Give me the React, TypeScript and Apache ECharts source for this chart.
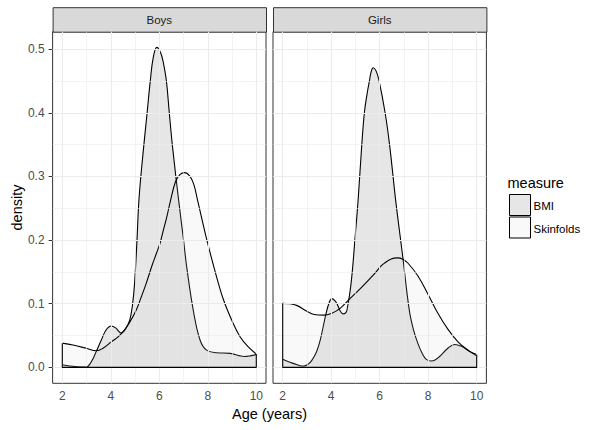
import React, { useEffect, useRef } from "react";
import * as echarts from "echarts";

const panels = ["Boys", "Girls"];
const measures = ["BMI", "Skinfolds"];
const xTicks = [2, 4, 6, 8, 10];
const xMinor = [3, 5, 7, 9];
const yTicks = [0, 0.1, 0.2, 0.3, 0.4, 0.5];
const yMinor = [0.05, 0.15, 0.25, 0.35, 0.45];

const boysBMI: number[][] = [
  [2, 0.004], [2.3, 0.002], [2.6, 0.001], [2.98, 0.0005], [3.2, 0.009], [3.4, 0.025],
  [3.61, 0.043], [3.81, 0.059], [4.02, 0.065], [4.2, 0.062], [4.43, 0.054], [4.6, 0.06],
  [4.78, 0.074], [4.9, 0.1], [4.98, 0.132], [5.08, 0.2], [5.16, 0.263], [5.3, 0.325],
  [5.5, 0.401], [5.63, 0.451], [5.75, 0.487], [5.9, 0.503], [6.05, 0.495], [6.15, 0.482],
  [6.29, 0.451], [6.41, 0.401], [6.55, 0.345], [6.8, 0.262], [7.0, 0.2], [7.13, 0.158],
  [7.4, 0.09], [7.68, 0.043], [7.95, 0.027], [8.37, 0.023], [8.92, 0.022], [9.33, 0.018],
  [9.5, 0.017], [9.75, 0.018], [10, 0.02],
];
const boysSkinfolds: number[][] = [
  [2, 0.038], [2.44, 0.035], [2.99, 0.03], [3.4, 0.026], [3.68, 0.03], [4.02, 0.04],
  [4.3, 0.048], [4.57, 0.059], [4.8, 0.072], [5.05, 0.09], [5.25, 0.11], [5.46, 0.132],
  [5.7, 0.16], [5.88, 0.179], [6.03, 0.195], [6.15, 0.213], [6.3, 0.235], [6.45, 0.26],
  [6.66, 0.291], [6.85, 0.303], [7.05, 0.306], [7.25, 0.301], [7.42, 0.288], [7.57, 0.264],
  [7.95, 0.202], [8.3, 0.151], [8.64, 0.107], [8.99, 0.074], [9.33, 0.048], [9.67, 0.032],
  [10, 0.021],
];
const girlsBMI: number[][] = [
  [2, 0.0126], [2.3, 0.008], [2.6, 0.004], [2.86, 0.002], [3.05, 0.005], [3.2, 0.011],
  [3.4, 0.025], [3.55, 0.043], [3.76, 0.08], [3.9, 0.1], [4.03, 0.108], [4.15, 0.105],
  [4.24, 0.1], [4.38, 0.088], [4.49, 0.084], [4.58, 0.085], [4.65, 0.09], [4.82, 0.132],
  [5.0, 0.211], [5.11, 0.263], [5.26, 0.349], [5.37, 0.401], [5.48, 0.43], [5.58, 0.451],
  [5.65, 0.465], [5.73, 0.471], [5.85, 0.466], [5.97, 0.451], [6.22, 0.401], [6.41, 0.349],
  [6.66, 0.262], [6.95, 0.174], [7.22, 0.09], [7.4, 0.058], [7.57, 0.038], [7.75, 0.022],
  [7.92, 0.0126], [8.12, 0.01], [8.3, 0.012], [8.47, 0.017], [8.81, 0.03], [9.09, 0.036],
  [9.37, 0.033], [9.71, 0.025], [10, 0.02],
];
const girlsSkinfolds: number[][] = [
  [2, 0.1006], [2.3, 0.1], [2.6, 0.097], [3.0, 0.088], [3.3, 0.083], [3.69, 0.082],
  [4.03, 0.085], [4.38, 0.093], [4.72, 0.106], [5.21, 0.124], [5.76, 0.146], [6.05, 0.159],
  [6.17, 0.163], [6.45, 0.17], [6.74, 0.172], [6.95, 0.17], [7.16, 0.164], [7.57, 0.144],
  [7.99, 0.115], [8.4, 0.085], [8.81, 0.06], [9.23, 0.04], [9.64, 0.027], [10, 0.018],
];

const panelData = [
  [boysBMI, boysSkinfolds],
  [girlsBMI, girlsSkinfolds],
];
const fillColors = ["#333333", "#cccccc"];
const fillAlpha = 0.12;

const FONT = "Liberation Sans, Arial, sans-serif";
const GRID_TOP = 31.7;
const GRID_H = 351.6;
const GRID_W = 213.4;
const GRID_LEFTS = [52.6, 273];
const X_MIN = 1.6, X_MAX = 10.4, Y_MIN = -0.0251, Y_MAX = 0.5276;

function rgba(hex: string, a: number) {
  const n = parseInt(hex.slice(1), 16);
  return `rgba(${(n >> 16) & 255},${(n >> 8) & 255},${n & 255},${a})`;
}

export default function App() {
  const ref = useRef<HTMLDivElement>(null);
  useEffect(() => {
    if (!ref.current) return;
    const chart = echarts.init(ref.current, null, { renderer: "svg" });

    const grids = GRID_LEFTS.map((left) => ({
      left, top: GRID_TOP, width: GRID_W, height: GRID_H,
      show: true, backgroundColor: "#ffffff", borderColor: "#333333", borderWidth: 1,
      containLabel: false,
    }));

    const xAxes = panels.map((_, i) => ({
      type: "value", gridIndex: i, min: X_MIN, max: X_MAX,
      axisLine: { show: false }, splitLine: { show: false },
      axisTick: { show: true, customValues: xTicks, length: 4, lineStyle: { color: "#333333", width: 1 } },
      axisLabel: { show: true, customValues: xTicks, margin: 7, color: "#4d4d4d", fontSize: 12, fontFamily: FONT,
        formatter: (v: number) => String(v) },
    }));
    const yAxes = panels.map((_, i) => ({
      type: "value", gridIndex: i, min: Y_MIN, max: Y_MAX,
      axisLine: { show: false }, splitLine: { show: false },
      axisTick: { show: i === 0, customValues: yTicks, length: 4, lineStyle: { color: "#333333", width: 1 } },
      axisLabel: { show: i === 0, customValues: yTicks, margin: 8, color: "#4d4d4d", fontSize: 12, fontFamily: FONT,
        formatter: (v: number) => v.toFixed(1) },
    }));

    const series: any[] = [];
    panels.forEach((_, i) => {
      const major = { color: "#ebebeb", width: 1.1, type: "solid" };
      const minor = { color: "#ebebeb", width: 0.6, type: "solid" };
      series.push({
        type: "line", xAxisIndex: i, yAxisIndex: i, data: [], z: 1, silent: true,
        markLine: {
          silent: true, symbol: ["none", "none"], label: { show: false }, animation: false,
          data: [
            ...xTicks.map((v) => ({ xAxis: v, lineStyle: major })),
            ...xMinor.map((v) => ({ xAxis: v, lineStyle: minor })),
            ...yTicks.map((v) => ({ yAxis: v, lineStyle: major })),
            ...yMinor.map((v) => ({ yAxis: v, lineStyle: minor })),
          ],
        },
      });
      panelData[i].forEach((d, m) => {
        series.push({
          name: measures[m], type: "line", xAxisIndex: i, yAxisIndex: i, data: d,
          z: 3 + m, symbol: "none", smooth: 0.4, silent: true,
          lineStyle: { color: "#000000", width: 1.1 },
          areaStyle: { color: fillColors[m], opacity: fillAlpha },
        });
      });
      const a = panelData[i][0], b = panelData[i][1];
      const first = Math.max(a[0][1], b[0][1]);
      const last = Math.max(a[a.length - 1][1], b[b.length - 1][1]);
      const x0 = a[0][0], x1 = a[a.length - 1][0];
      series.push({
        type: "line", xAxisIndex: i, yAxisIndex: i, z: 6, symbol: "none", silent: true,
        data: [[x0, first], [x0, 0], [x1, 0], [x1, last]],
        lineStyle: { color: "#000000", width: 1.1 },
      });
    });

    const graphic: any[] = [];
    panels.forEach((p, i) => {
      graphic.push({
        type: "rect", left: GRID_LEFTS[i], top: 7.2, silent: true,
        shape: { width: GRID_W, height: GRID_TOP - 7.2 },
        style: { fill: "#d9d9d9", stroke: "#333333", lineWidth: 1 },
      });
      graphic.push({
        type: "text", x: GRID_LEFTS[i] + GRID_W / 2, y: (7.2 + GRID_TOP) / 2 + 0.5, silent: true,
        style: { text: p, fill: "#1a1a1a", font: `11.5px ${FONT}`, textAlign: "center", textVerticalAlign: "middle" },
      });
    });
    graphic.push({
      type: "text", x: (GRID_LEFTS[0] + GRID_LEFTS[1] + GRID_W) / 2, y: 413.5, silent: true,
      style: { text: "Age (years)", fill: "#000000", font: `14.5px ${FONT}`, textAlign: "center", textVerticalAlign: "middle" },
    });
    graphic.push({
      type: "text", x: 16.8, y: GRID_TOP + GRID_H / 2, rotation: Math.PI / 2, silent: true,
      style: { text: "density", fill: "#000000", font: `14.5px ${FONT}`, textAlign: "center", textVerticalAlign: "middle" },
    });
    graphic.push({
      type: "text", x: 507.5, y: 183.3, silent: true,
      style: { text: "measure", fill: "#000000", font: `14.5px ${FONT}`, textAlign: "left", textVerticalAlign: "middle" },
    });
    measures.forEach((m, k) => {
      const top = 194.5 + k * 22.5;
      graphic.push({
        type: "rect", x: 509.5, y: top, silent: true,
        shape: { width: 21, height: 21 },
        style: { fill: rgba(fillColors[k], fillAlpha), stroke: "#000000", lineWidth: 1 },
      });
      graphic.push({
        type: "text", x: 533.5, y: top + 11.5, silent: true,
        style: { text: m, fill: "#000000", font: `11.5px ${FONT}`, textAlign: "left", textVerticalAlign: "middle" },
      });
    });

    chart.setOption({
      animation: false,
      backgroundColor: "#ffffff",
      grid: grids,
      xAxis: xAxes,
      yAxis: yAxes,
      series,
      graphic,
    });
    return () => chart.dispose();
  }, []);
  return <div ref={ref} style={{ position: "absolute", left: 0, top: 0, width: 600, height: 430 }} />;
}
